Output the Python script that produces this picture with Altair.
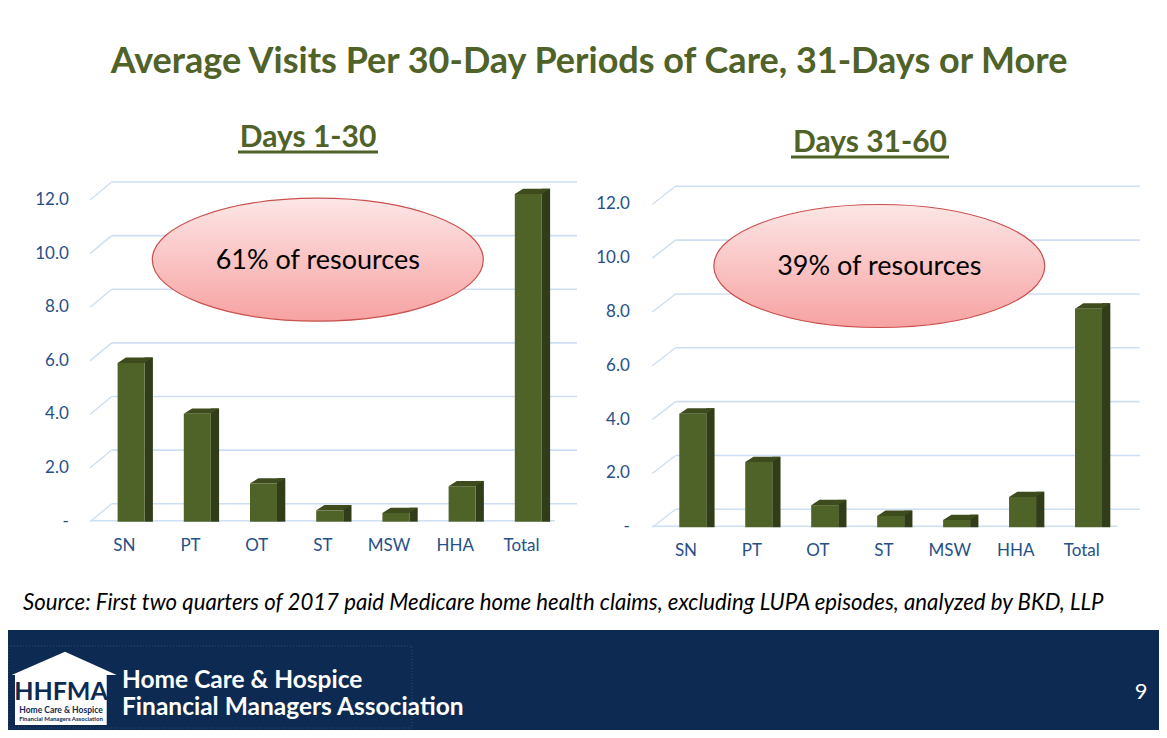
import altair as alt
import pandas as pd

# ---------------- data ----------------
categories = ["SN", "PT", "OT", "ST", "MSW", "HHA", "Total"]
days_1_30 = [5.7, 3.8, 1.2, 0.2, 0.1, 1.1, 12.0]
days_31_60 = [4.0, 2.2, 0.6, 0.2, 0.05, 0.9, 7.9]
tick_values = [0, 2, 4, 6, 8, 10, 12]
tick_labels = ["-", "2.0", "4.0", "6.0", "8.0", "10.0", "12.0"]
panel_titles = ["Days 1-30", "Days 31-60"]
callouts = ["61% of resources", "39% of resources"]
main_title = "Average Visits Per 30-Day Periods of Care, 31-Days or More"
source_note = ("Source: First two quarters of 2017 paid Medicare home health claims, "
               "excluding LUPA episodes, analyzed by BKD, LLP")
org_lines = ["Home Care & Hospice", "Financial Managers Association"]
logo_lines = ["HHFMA", "Home Care & Hospice", "Financial Managers Association"]
page_number = "9"

# ---------------- styles ----------------
W, H = 1151, 722
OLIVE = "#4f6228"
SIDE = "#313d18"
TOP = "#3d4b1d"
AXIS_BLUE = "#265089"
GRID = "#cddff3"
NAVY = "#0d2a52"
FONT = "Lato"

TOP_FACE = "M -1 0.15 L 0.53 0.15 L 1 -0.15 L -0.53 -0.15 Z"
ELLIPSE = "M -1 0 A 1 0.3716 0 0 1 1 0 A 1 0.3716 0 0 1 -1 0 Z"
HOUSE = ("M 0.015 -0.698 L 1 -0.254 L 0.81 -0.254 L 0.81 0.698 "
         "L -0.937 0.698 L -0.937 -0.254 L -1 -0.254 Z")

ticks_df = pd.DataFrame({"tick": tick_values, "label": tick_labels})


def one(**kw):
    return pd.DataFrame({k: [v] for k, v in kw.items()})


def panel(values, g):
    df = pd.DataFrame({"cat": categories, "value": values})
    xs = alt.Scale(domain=categories, range=g["xr"], paddingInner=0, paddingOuter=0)
    ys = alt.Scale(domain=[0, 12], range=g["yr"], nice=False, zero=True)
    X = alt.X("cat:N", scale=xs, axis=None, sort=categories)
    Y = alt.Y("value:Q", scale=ys, axis=None, stack=None)
    T = alt.Y("tick:Q", scale=ys, axis=None)

    back = alt.Chart(ticks_df).mark_rule(color=GRID, strokeWidth=1.6, yOffset=-18).encode(
        y=T, x=alt.value(g["bx0"]), x2=alt.value(g["bx1"]))
    slant = alt.Chart(ticks_df).mark_rule(color=GRID, strokeWidth=1.4, y2Offset=-18).encode(
        y=T, y2="tick:Q", x=alt.value(g["sx0"]), x2=alt.value(g["bx0"]))
    floor = alt.Chart(ticks_df).transform_filter("datum.tick == 0").mark_rule(
        color=GRID, strokeWidth=1.6, yOffset=-1).encode(
        y=T, x=alt.value(g["sx0"]), x2=alt.value(g["fx1"]))
    side = alt.Chart(df).mark_bar(color=SIDE, width=8.3, xOffset=6.8 + 13.5 + 4.15,
                                   yOffset=-11.3, y2Offset=-8.6).encode(x=X, y=Y)
    front = alt.Chart(df).mark_bar(color=OLIVE, width=27, xOffset=6.8,
                                    yOffset=-6, y2Offset=-6).encode(x=X, y=Y)
    top = alt.Chart(df).mark_point(shape=TOP_FACE, size=1246, filled=True, opacity=1,
                                    color=TOP, xOffset=10.95, yOffset=-8.65).encode(x=X, y=Y)
    xlab = alt.Chart(df).mark_text(font=FONT, fontSize=17, color=AXIS_BLUE,
                                    baseline="middle").encode(
        x=X, y=alt.value(g["xly"]), text="cat:N")
    ylab = alt.Chart(ticks_df).mark_text(font=FONT, fontSize=17, color=AXIS_BLUE,
                                          align="right", baseline="middle").encode(
        x=alt.value(g["ylx"]), y=T, text="label:N")
    return [back, slant, floor, side, top, front, xlab, ylab]


left_geo = dict(xr=[83.2, 546.6], yr=[513.7, 192], bx0=103.7, bx1=569, sx0=82,
                fx1=547, xly=538.3, ylx=60.8)
right_geo = dict(xr=[645, 1106.7], yr=[519.3, 196.3], bx0=667.5, bx1=1131.7, sx0=644.3,
                 fx1=1109.3, xly=542.7, ylx=621.8)

layers = []
layers += panel(days_1_30, left_geo)
layers += panel(days_31_60, right_geo)

# callout ellipses
grad = alt.LinearGradient(gradient="linear",
                          stops=[alt.GradientStop(color="#fde6e6", offset=0),
                                 alt.GradientStop(color="#f7a2a2", offset=1)],
                          x1=0, x2=0, y1=0, y2=1)
for txt, (cx, cy) in zip(callouts, [(309.8, 251.7), (871.3, 258.0)]):
    d = one(t=txt)
    layers.append(alt.Chart(d).mark_point(shape=ELLIPSE, size=331 ** 2, filled=True,
                                          fill=grad, stroke="#c9504d", strokeWidth=1.2,
                                          opacity=1).encode(x=alt.value(cx), y=alt.value(cy)))
    layers.append(alt.Chart(d).mark_text(font=FONT, fontSize=27, color="black",
                                         baseline="middle").encode(
        x=alt.value(cx), y=alt.value(cy + 1), text="t:N"))

# titles
layers.append(alt.Chart(one(t=main_title)).mark_text(
    font=FONT, fontSize=36, fontWeight="bold", color=OLIVE, baseline="middle").encode(
    x=alt.value(581), y=alt.value(54), text="t:N"))
for txt, cx, base, ux0, ux1 in [(panel_titles[0], 300, 139, 230, 370),
                                (panel_titles[1], 862, 144, 783, 941)]:
    d = one(t=txt)
    layers.append(alt.Chart(d).mark_text(font=FONT, fontSize=30, fontWeight="bold",
                                         color=OLIVE, baseline="alphabetic").encode(
        x=alt.value(cx), y=alt.value(base), text="t:N"))
    layers.append(alt.Chart(d).mark_rule(color=OLIVE, strokeWidth=3).encode(
        x=alt.value(ux0), x2=alt.value(ux1), y=alt.value(base + 5)))

# source note
layers.append(alt.Chart(one(t=source_note)).mark_text(
    font=FONT, fontSize=22.2, fontStyle="italic", color="black", align="left",
    baseline="middle").encode(x=alt.value(15), y=alt.value(595), text="t:N"))

# footer band
fd = one(t=page_number)
layers.append(alt.Chart(fd).mark_rect(color=NAVY).encode(
    x=alt.value(0), x2=alt.value(W), y=alt.value(622), y2=alt.value(H)))
layers.append(alt.Chart(fd).mark_rect(fillOpacity=0, stroke="#2c4a72", strokeWidth=1,
                                      strokeDash=[1, 2]).encode(
    x=alt.value(0), x2=alt.value(404), y=alt.value(638), y2=alt.value(720)))
layers.append(alt.Chart(fd).mark_text(font=FONT, fontSize=22, color="white",
                                      baseline="middle").encode(
    x=alt.value(1133), y=alt.value(684), text="t:N"))
# logo
layers.append(alt.Chart(fd).mark_point(shape=HOUSE, size=105 ** 2, filled=True, opacity=1,
                                       color="white").encode(
    x=alt.value(56.2), y=alt.value(680.4)))
for txt, y, fs in zip(logo_lines, [684, 702, 711], [25, 8.5, 6]):
    layers.append(alt.Chart(one(t=txt)).mark_text(
        font=FONT, fontSize=fs, fontWeight="bold", color=NAVY, baseline="middle").encode(
        x=alt.value(53), y=alt.value(y), text="t:N"))
for txt, y in zip(org_lines, [673, 700]):
    layers.append(alt.Chart(one(t=txt)).mark_text(
        font=FONT, fontSize=24.5, fontWeight="bold", color="white", align="left",
        baseline="middle").encode(x=alt.value(114), y=alt.value(y), text="t:N"))

chart = alt.layer(*layers).resolve_scale(x="independent", y="independent").properties(
    width=W, height=H, autosize=alt.AutoSizeParams(type="none"), padding=0,
    background="white").configure_view(stroke=None)

chart.save("out.html", embed_options={"renderer": "svg", "actions": False})
